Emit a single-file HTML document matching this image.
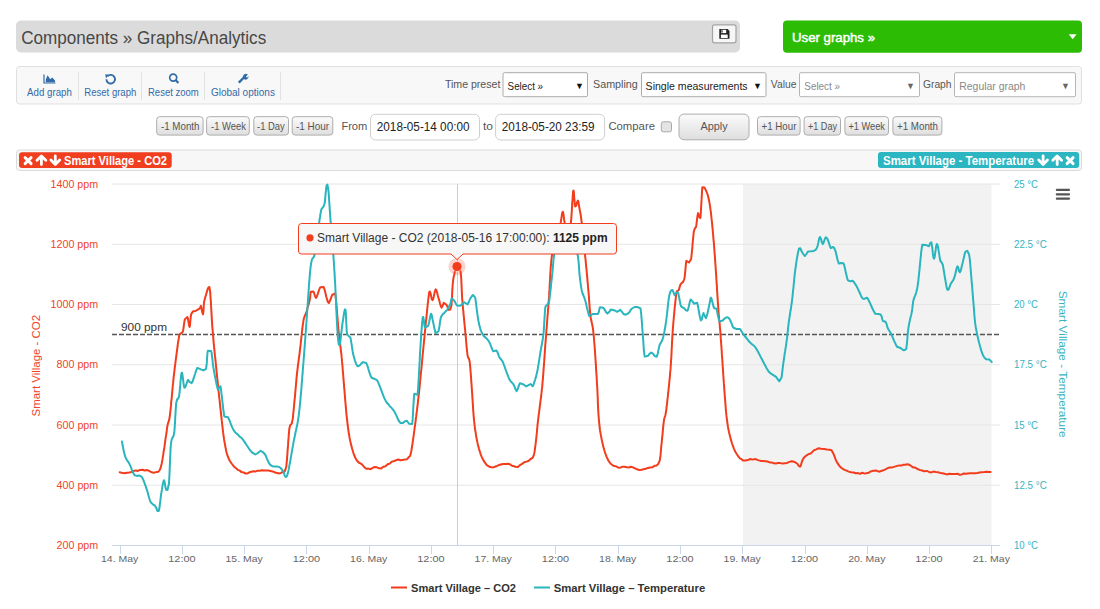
<!DOCTYPE html>
<html><head><meta charset="utf-8"><title>Graphs/Analytics</title>
<style>
html,body{margin:0;padding:0;background:#fff;width:1100px;height:609px;overflow:hidden}
svg{display:block;font-family:"Liberation Sans",sans-serif}
</style></head><body>
<svg width="1100" height="609" viewBox="0 0 1100 609">
<rect x="16" y="20.5" width="724" height="32" rx="5" fill="#dbdbdb"/>
<text x="21.2" y="43.6" font-size="17.5" fill="#474747" textLength="245" lengthAdjust="spacingAndGlyphs">Components » Graphs/Analytics</text>
<rect x="712.5" y="24.8" width="23.5" height="18" rx="2" fill="#f6f6f6" stroke="#a3a3a3" stroke-width="1.2"/>
<path d="M719.3 29 H727.6 L729.5 30.9 V38.7 H719.3 Z" fill="#222"/>
<rect x="721" y="29.8" width="5.2" height="3.3" fill="#fff"/>
<rect x="721.3" y="30.2" width="1.3" height="2.4" fill="#333"/>
<rect x="720.9" y="34.6" width="6.8" height="3.4" fill="#fff"/>
<rect x="783" y="20.5" width="299" height="32.3" rx="4" fill="#2cbc04"/>
<text x="792" y="42.2" font-size="13.2" fill="#fff" textLength="83" lengthAdjust="spacingAndGlyphs" stroke="#fff" stroke-width="0.45">User graphs »</text>
<path d="M1068.8 34.2 H1076.6 L1072.7 39.3 Z" fill="#fff"/>
<rect x="16.5" y="66.5" width="1065" height="37.5" rx="3" fill="#f8f8f8" stroke="#e0e0e0" stroke-width="1"/>
<line x1="78.5" y1="72" x2="78.5" y2="100" stroke="#e2e2e2" stroke-width="1"/>
<line x1="141.5" y1="72" x2="141.5" y2="100" stroke="#e2e2e2" stroke-width="1"/>
<line x1="204.5" y1="72" x2="204.5" y2="100" stroke="#e2e2e2" stroke-width="1"/>
<line x1="280.5" y1="72" x2="280.5" y2="100" stroke="#e2e2e2" stroke-width="1"/>
<text x="27.1" y="95.5" font-size="11.3" fill="#336aa8" textLength="44.7" lengthAdjust="spacingAndGlyphs">Add graph</text>
<text x="84.3" y="95.5" font-size="11.3" fill="#336aa8" textLength="52" lengthAdjust="spacingAndGlyphs">Reset graph</text>
<text x="148" y="95.5" font-size="11.3" fill="#336aa8" textLength="50.7" lengthAdjust="spacingAndGlyphs">Reset zoom</text>
<text x="210.9" y="95.5" font-size="11.3" fill="#336aa8" textLength="64" lengthAdjust="spacingAndGlyphs">Global options</text>
<path d="M44 74.5 V83 H55.5" fill="none" stroke="#336aa8" stroke-width="1.2"/>
<path d="M45.8 82.2 V79.5 L47.6 75.3 L50.2 79.2 L52.3 77.4 L55 80.4 V82.2 Z" fill="#336aa8"/>
<path d="M107.6 76.2 A4.3 4.3 0 1 1 106.4 79.3" fill="none" stroke="#336aa8" stroke-width="1.9"/>
<path d="M105.2 74.3 L109.3 74.8 L106 78.2 Z" fill="#336aa8"/>
<circle cx="173.2" cy="77.6" r="3.5" fill="none" stroke="#336aa8" stroke-width="1.7"/>
<line x1="175.6" y1="80.1" x2="178.4" y2="83" stroke="#336aa8" stroke-width="2.2"/>
<path d="M238.8 82.6 L244.4 77 " fill="none" stroke="#336aa8" stroke-width="2.4"/>
<path d="M243.2 78.2 A3 3 0 0 1 247.9 74.6 L246 76.6 L247 77.8 L248.6 76.3 A3 3 0 0 1 244.3 79.3 Z" fill="#336aa8"/>
<text x="444.9" y="87.7" font-size="11.5" fill="#555" textLength="55.5" lengthAdjust="spacingAndGlyphs">Time preset</text>
<rect x="503" y="72.7" width="84.5" height="24" rx="1.5" fill="#fff" stroke="#acacac" stroke-width="1"/>
<text x="507.6" y="89.6" font-size="11.8" fill="#222" textLength="35.5" lengthAdjust="spacingAndGlyphs">Select »</text>
<text x="575" y="88.5" font-size="9" fill="#111">▼</text>
<text x="593" y="87.7" font-size="11.5" fill="#555" textLength="44.8" lengthAdjust="spacingAndGlyphs">Sampling</text>
<rect x="641.5" y="72.7" width="124.5" height="24" rx="1.5" fill="#fff" stroke="#acacac" stroke-width="1"/>
<text x="645.6" y="89.6" font-size="11.8" fill="#222" textLength="102" lengthAdjust="spacingAndGlyphs">Single measurements</text>
<text x="753" y="88.5" font-size="9" fill="#111">▼</text>
<text x="770.8" y="87.7" font-size="11.5" fill="#555" textLength="25.6" lengthAdjust="spacingAndGlyphs">Value</text>
<rect x="799.5" y="72.7" width="120" height="24" rx="1.5" fill="#fff" stroke="#b5b5b5" stroke-width="1"/>
<text x="804.3" y="89.6" font-size="11.8" fill="#888" textLength="35.7" lengthAdjust="spacingAndGlyphs">Select »</text>
<text x="906" y="88.5" font-size="9" fill="#666">▼</text>
<text x="923" y="87.7" font-size="11.5" fill="#555" textLength="28.5" lengthAdjust="spacingAndGlyphs">Graph</text>
<rect x="954.5" y="72.7" width="121" height="24" rx="1.5" fill="#fff" stroke="#b5b5b5" stroke-width="1"/>
<text x="959.3" y="89.6" font-size="11.8" fill="#888" textLength="66" lengthAdjust="spacingAndGlyphs">Regular graph</text>
<text x="1061" y="88.5" font-size="9" fill="#666">▼</text>
<defs><linearGradient id="bg" x1="0" y1="0" x2="0" y2="1"><stop offset="0" stop-color="#fbfbfb"/><stop offset="1" stop-color="#dedede"/></linearGradient></defs>
<rect x="156.7" y="116.7" width="46.400000000000006" height="18.39999999999999" rx="3" fill="url(#bg)" stroke="#adadad" stroke-width="1"/>
<text x="160.9" y="129.8" font-size="10.8" fill="#555" textLength="38.6" lengthAdjust="spacingAndGlyphs">-1 Month</text>
<rect x="206.6" y="116.7" width="42.70000000000002" height="18.39999999999999" rx="3" fill="url(#bg)" stroke="#adadad" stroke-width="1"/>
<text x="211" y="129.8" font-size="10.8" fill="#555" textLength="35" lengthAdjust="spacingAndGlyphs">-1 Week</text>
<rect x="253.8" y="116.7" width="34.69999999999999" height="18.39999999999999" rx="3" fill="url(#bg)" stroke="#adadad" stroke-width="1"/>
<text x="257" y="129.8" font-size="10.8" fill="#555" textLength="27.7" lengthAdjust="spacingAndGlyphs">-1 Day</text>
<rect x="292.2" y="116.7" width="40.60000000000002" height="18.39999999999999" rx="3" fill="url(#bg)" stroke="#adadad" stroke-width="1"/>
<text x="296" y="129.8" font-size="10.8" fill="#555" textLength="33" lengthAdjust="spacingAndGlyphs">-1 Hour</text>
<text x="341.4" y="129.8" font-size="11.5" fill="#555" textLength="25.9" lengthAdjust="spacingAndGlyphs">From</text>
<rect x="370.5" y="114.3" width="109" height="25.7" rx="5" fill="#fff" stroke="#cfcfcf" stroke-width="1"/>
<text x="376.8" y="130.6" font-size="12" fill="#222" textLength="92.7" lengthAdjust="spacingAndGlyphs">2018-05-14 00:00</text>
<text x="483" y="129.8" font-size="11.5" fill="#555" textLength="10" lengthAdjust="spacingAndGlyphs">to</text>
<rect x="495.6" y="114.3" width="109" height="25.7" rx="5" fill="#fff" stroke="#cfcfcf" stroke-width="1"/>
<text x="501.8" y="130.6" font-size="12" fill="#222" textLength="92.7" lengthAdjust="spacingAndGlyphs">2018-05-20 23:59</text>
<text x="608.4" y="129.9" font-size="11.5" fill="#555" textLength="46.6" lengthAdjust="spacingAndGlyphs">Compare</text>
<rect x="661.3" y="121.8" width="10.2" height="10" rx="2" fill="#e4e4e4" stroke="#a9a9a9" stroke-width="1"/>
<rect x="679.0" y="114.1" width="70.0" height="25.700000000000017" rx="5" fill="url(#bg)" stroke="#adadad" stroke-width="1"/>
<text x="700.4" y="130.4" font-size="11.5" fill="#555" textLength="27.3" lengthAdjust="spacingAndGlyphs">Apply</text>
<rect x="757.5" y="116.7" width="42.60000000000002" height="18.39999999999999" rx="3" fill="url(#bg)" stroke="#adadad" stroke-width="1"/>
<text x="761.6" y="129.8" font-size="10.8" fill="#555" textLength="34.8" lengthAdjust="spacingAndGlyphs">+1 Hour</text>
<rect x="804.1" y="116.7" width="36.39999999999998" height="18.39999999999999" rx="3" fill="url(#bg)" stroke="#adadad" stroke-width="1"/>
<text x="808" y="129.8" font-size="10.8" fill="#555" textLength="29" lengthAdjust="spacingAndGlyphs">+1 Day</text>
<rect x="844.9" y="116.7" width="43.60000000000002" height="18.39999999999999" rx="3" fill="url(#bg)" stroke="#adadad" stroke-width="1"/>
<text x="848.4" y="129.8" font-size="10.8" fill="#555" textLength="36.6" lengthAdjust="spacingAndGlyphs">+1 Week</text>
<rect x="892.9" y="116.7" width="49.0" height="18.39999999999999" rx="3" fill="url(#bg)" stroke="#adadad" stroke-width="1"/>
<text x="897" y="129.8" font-size="10.8" fill="#555" textLength="41" lengthAdjust="spacingAndGlyphs">+1 Month</text>
<rect x="16.5" y="150" width="1065" height="20.5" rx="3" fill="#f7f7f7" stroke="#dadada" stroke-width="1"/>
<rect x="19" y="152.2" width="152.7" height="15.8" rx="3" fill="#f03e1f"/>
<text x="64" y="164.9" font-size="12" fill="#fff" font-weight="bold" textLength="103" lengthAdjust="spacingAndGlyphs">Smart Village - CO2</text>
<rect x="878" y="152.1" width="201.2" height="16" rx="3" fill="#2cb6c1"/>
<text x="883" y="164.9" font-size="12" fill="#fff" font-weight="bold" textLength="151" lengthAdjust="spacingAndGlyphs">Smart Village - Temperature</text>
<path d="M25.1 157.6 L31.1 163.6 M31.1 157.6 L25.1 163.6" fill="none" stroke="#fff" stroke-width="2.9" stroke-linecap="round"/>
<path d="M41.4 156.6 V164.6 M37.0 160.2 L41.4 155.9 L45.8 160.2" fill="none" stroke="#fff" stroke-width="2.8" stroke-linecap="round" stroke-linejoin="round"/>
<path d="M55.3 155.9 V163.9 M50.9 160.1 L55.3 164.4 L59.699999999999996 160.1" fill="none" stroke="#fff" stroke-width="2.8" stroke-linecap="round" stroke-linejoin="round"/>
<path d="M1043.1 155.9 V163.9 M1038.6999999999998 160.1 L1043.1 164.4 L1047.5 160.1" fill="none" stroke="#fff" stroke-width="2.8" stroke-linecap="round" stroke-linejoin="round"/>
<path d="M1057.2 156.6 V164.6 M1052.8 160.2 L1057.2 155.9 L1061.6000000000001 160.2" fill="none" stroke="#fff" stroke-width="2.8" stroke-linecap="round" stroke-linejoin="round"/>
<path d="M1067.1 157.6 L1073.1 163.6 M1073.1 157.6 L1067.1 163.6" fill="none" stroke="#fff" stroke-width="2.9" stroke-linecap="round"/>
<rect x="743" y="184" width="248.5" height="361.5" fill="#f2f2f2"/>
<line x1="112" y1="184" x2="1000" y2="184" stroke="#e6e6e6" stroke-width="1"/>
<line x1="112" y1="244.25" x2="1000" y2="244.25" stroke="#e6e6e6" stroke-width="1"/>
<line x1="112" y1="304.5" x2="1000" y2="304.5" stroke="#e6e6e6" stroke-width="1"/>
<line x1="112" y1="364.75" x2="1000" y2="364.75" stroke="#e6e6e6" stroke-width="1"/>
<line x1="112" y1="425" x2="1000" y2="425" stroke="#e6e6e6" stroke-width="1"/>
<line x1="112" y1="485.25" x2="1000" y2="485.25" stroke="#e6e6e6" stroke-width="1"/>
<line x1="112" y1="545.5" x2="1000" y2="545.5" stroke="#ccd6eb" stroke-width="1"/>
<line x1="120.5" y1="545" x2="120.5" y2="554" stroke="#ccd6eb" stroke-width="1"/>
<text x="119.6" y="561.9" font-size="9.8" fill="#666" text-anchor="middle" textLength="37.2" lengthAdjust="spacingAndGlyphs">14. May</text>
<line x1="182.5" y1="545" x2="182.5" y2="554" stroke="#ccd6eb" stroke-width="1"/>
<text x="181.9" y="561.9" font-size="9.8" fill="#666" text-anchor="middle" textLength="27.3" lengthAdjust="spacingAndGlyphs">12:00</text>
<line x1="244.5" y1="545" x2="244.5" y2="554" stroke="#ccd6eb" stroke-width="1"/>
<text x="244.1" y="561.9" font-size="9.8" fill="#666" text-anchor="middle" textLength="37.2" lengthAdjust="spacingAndGlyphs">15. May</text>
<line x1="306.5" y1="545" x2="306.5" y2="554" stroke="#ccd6eb" stroke-width="1"/>
<text x="306.4" y="561.9" font-size="9.8" fill="#666" text-anchor="middle" textLength="27.3" lengthAdjust="spacingAndGlyphs">12:00</text>
<line x1="369.5" y1="545" x2="369.5" y2="554" stroke="#ccd6eb" stroke-width="1"/>
<text x="368.7" y="561.9" font-size="9.8" fill="#666" text-anchor="middle" textLength="37.2" lengthAdjust="spacingAndGlyphs">16. May</text>
<line x1="431.5" y1="545" x2="431.5" y2="554" stroke="#ccd6eb" stroke-width="1"/>
<text x="430.9" y="561.9" font-size="9.8" fill="#666" text-anchor="middle" textLength="27.3" lengthAdjust="spacingAndGlyphs">12:00</text>
<line x1="493.5" y1="545" x2="493.5" y2="554" stroke="#ccd6eb" stroke-width="1"/>
<text x="493.2" y="561.9" font-size="9.8" fill="#666" text-anchor="middle" textLength="37.2" lengthAdjust="spacingAndGlyphs">17. May</text>
<line x1="555.5" y1="545" x2="555.5" y2="554" stroke="#ccd6eb" stroke-width="1"/>
<text x="555.5" y="561.9" font-size="9.8" fill="#666" text-anchor="middle" textLength="27.3" lengthAdjust="spacingAndGlyphs">12:00</text>
<line x1="618.5" y1="545" x2="618.5" y2="554" stroke="#ccd6eb" stroke-width="1"/>
<text x="617.7" y="561.9" font-size="9.8" fill="#666" text-anchor="middle" textLength="37.2" lengthAdjust="spacingAndGlyphs">18. May</text>
<line x1="680.5" y1="545" x2="680.5" y2="554" stroke="#ccd6eb" stroke-width="1"/>
<text x="680.0" y="561.9" font-size="9.8" fill="#666" text-anchor="middle" textLength="27.3" lengthAdjust="spacingAndGlyphs">12:00</text>
<line x1="742.5" y1="545" x2="742.5" y2="554" stroke="#ccd6eb" stroke-width="1"/>
<text x="742.2" y="561.9" font-size="9.8" fill="#666" text-anchor="middle" textLength="37.2" lengthAdjust="spacingAndGlyphs">19. May</text>
<line x1="805.5" y1="545" x2="805.5" y2="554" stroke="#ccd6eb" stroke-width="1"/>
<text x="804.5" y="561.9" font-size="9.8" fill="#666" text-anchor="middle" textLength="27.3" lengthAdjust="spacingAndGlyphs">12:00</text>
<line x1="867.5" y1="545" x2="867.5" y2="554" stroke="#ccd6eb" stroke-width="1"/>
<text x="866.8" y="561.9" font-size="9.8" fill="#666" text-anchor="middle" textLength="37.2" lengthAdjust="spacingAndGlyphs">20. May</text>
<line x1="929.5" y1="545" x2="929.5" y2="554" stroke="#ccd6eb" stroke-width="1"/>
<text x="929.0" y="561.9" font-size="9.8" fill="#666" text-anchor="middle" textLength="27.3" lengthAdjust="spacingAndGlyphs">12:00</text>
<line x1="991.5" y1="545" x2="991.5" y2="554" stroke="#ccd6eb" stroke-width="1"/>
<text x="991.3" y="561.9" font-size="9.8" fill="#666" text-anchor="middle" textLength="37.2" lengthAdjust="spacingAndGlyphs">21. May</text>
<text x="98.2" y="187.6" font-size="10" fill="#f0442a" text-anchor="end" textLength="47.6" lengthAdjust="spacingAndGlyphs">1400 ppm</text>
<text x="98.2" y="247.8" font-size="10" fill="#f0442a" text-anchor="end" textLength="47.6" lengthAdjust="spacingAndGlyphs">1200 ppm</text>
<text x="98.2" y="308.1" font-size="10" fill="#f0442a" text-anchor="end" textLength="47.6" lengthAdjust="spacingAndGlyphs">1000 ppm</text>
<text x="98.2" y="368.4" font-size="10" fill="#f0442a" text-anchor="end" textLength="41.6" lengthAdjust="spacingAndGlyphs">800 ppm</text>
<text x="98.2" y="428.6" font-size="10" fill="#f0442a" text-anchor="end" textLength="41.6" lengthAdjust="spacingAndGlyphs">600 ppm</text>
<text x="98.2" y="488.9" font-size="10" fill="#f0442a" text-anchor="end" textLength="41.6" lengthAdjust="spacingAndGlyphs">400 ppm</text>
<text x="98.2" y="548.6" font-size="10" fill="#f0442a" text-anchor="end" textLength="41.6" lengthAdjust="spacingAndGlyphs">200 ppm</text>
<text x="1014" y="187.6" font-size="10" fill="#36b4bf" textLength="24" lengthAdjust="spacingAndGlyphs">25 °C</text>
<text x="1014" y="247.8" font-size="10" fill="#36b4bf" textLength="32.7" lengthAdjust="spacingAndGlyphs">22.5 °C</text>
<text x="1014" y="308.1" font-size="10" fill="#36b4bf" textLength="24" lengthAdjust="spacingAndGlyphs">20 °C</text>
<text x="1014" y="368.4" font-size="10" fill="#36b4bf" textLength="32.7" lengthAdjust="spacingAndGlyphs">17.5 °C</text>
<text x="1014" y="428.6" font-size="10" fill="#36b4bf" textLength="24" lengthAdjust="spacingAndGlyphs">15 °C</text>
<text x="1014" y="488.9" font-size="10" fill="#36b4bf" textLength="32.7" lengthAdjust="spacingAndGlyphs">12.5 °C</text>
<text x="1014" y="548.6" font-size="10" fill="#36b4bf" textLength="24" lengthAdjust="spacingAndGlyphs">10 °C</text>
<text x="0" y="0" font-size="11" fill="#f0442a" text-anchor="middle" textLength="101.5" lengthAdjust="spacingAndGlyphs" transform="translate(39.8,365.7) rotate(-90)">Smart Village - CO2</text>
<text x="0" y="0" font-size="11" fill="#36b4bf" text-anchor="middle" textLength="147" lengthAdjust="spacingAndGlyphs" transform="translate(1058.8,364.2) rotate(90)">Smart Village - Temperature</text>
<line x1="112" y1="334.5" x2="1000" y2="334.5" stroke="#555" stroke-width="1.6" stroke-dasharray="5,2"/>
<text x="121" y="331" font-size="11.8" fill="#333" textLength="46" lengthAdjust="spacingAndGlyphs">900 ppm</text>
<line x1="457.5" y1="184" x2="457.5" y2="545" stroke="#cccccc" stroke-width="1"/>
<path d="M119.7 472.3 L123.0 473.1 L124.7 473.3 L126.8 472.7 L129.4 472.4 L131.3 472.0 L133.4 471.0 L135.7 470.4 L137.9 470.9 L140.0 469.9 L142.4 469.7 L144.8 470.5 L146.9 470.0 L148.6 470.6 L151.8 472.3 L153.8 472.7 L156.2 472.1 L158.2 471.8 L159.5 470.3 L160.5 468.2 L161.4 464.8 L161.8 463.2 L162.1 461.4 L162.5 459.4 L162.8 457.2 L163.2 454.9 L163.5 452.6 L163.9 450.2 L164.3 447.9 L164.6 445.6 L164.9 443.5 L165.2 441.4 L165.5 439.2 L165.8 436.9 L166.2 434.7 L166.5 432.5 L166.8 430.4 L167.0 428.4 L167.3 426.6 L167.6 425.0 L168.2 422.6 L168.7 421.5 L169.2 419.8 L169.9 415.3 L170.1 414.0 L170.2 412.5 L170.4 410.9 L170.6 409.2 L170.8 407.3 L171.0 405.4 L171.1 403.4 L171.3 401.2 L171.6 399.1 L171.8 396.9 L172.0 394.6 L172.2 392.3 L172.4 390.0 L172.6 387.7 L172.8 385.4 L173.1 383.2 L173.3 380.9 L173.5 378.8 L173.7 376.6 L174.0 374.6 L174.2 372.6 L174.5 370.4 L174.7 368.2 L175.0 365.9 L175.3 363.6 L175.6 361.3 L175.9 358.9 L176.2 356.6 L176.5 354.3 L176.8 352.0 L177.1 349.8 L177.4 347.6 L177.7 345.5 L177.9 343.5 L178.2 341.6 L178.5 339.8 L178.8 338.2 L179.0 336.7 L179.3 335.4 L179.5 334.6 L182.7 332.0 L183.1 330.4 L183.5 328.1 L183.8 325.6 L184.2 323.1 L184.5 320.9 L184.9 319.2 L187.4 317.0 L187.9 318.3 L188.3 320.9 L188.8 323.7 L189.2 326.0 L189.6 326.9 L189.9 325.8 L190.1 323.8 L190.3 321.1 L190.6 318.3 L190.9 315.7 L191.3 313.9 L193.2 311.2 L195.5 311.0 L197.8 309.6 L199.8 308.3 L200.9 305.9 L201.6 308.9 L202.3 312.5 L203.0 314.3 L203.3 312.7 L203.5 310.4 L203.7 307.4 L203.8 304.5 L204.1 302.1 L204.7 299.3 L205.3 297.1 L206.0 294.8 L206.8 291.9 L207.7 289.0 L208.5 287.4 L209.4 287.0 L210.2 292.3 L210.3 293.6 L210.4 295.0 L210.5 296.6 L210.6 298.3 L210.8 300.2 L210.9 302.2 L211.0 304.3 L211.1 306.4 L211.2 308.7 L211.4 311.0 L211.5 313.3 L211.6 315.7 L211.8 318.1 L211.9 320.5 L212.1 322.9 L212.2 325.3 L212.4 327.7 L212.6 330.0 L212.8 331.9 L212.9 333.8 L213.1 335.8 L213.3 337.8 L213.4 339.8 L213.6 341.8 L213.8 343.8 L214.0 345.9 L214.2 348.0 L214.4 350.1 L214.6 352.2 L214.8 354.3 L215.0 356.4 L215.3 358.5 L215.5 360.5 L215.7 362.6 L215.9 364.7 L216.1 366.7 L216.3 368.8 L216.5 370.8 L216.7 372.7 L216.9 374.7 L217.1 376.8 L217.3 379.0 L217.6 381.2 L217.8 383.3 L218.0 385.5 L218.2 387.6 L218.4 389.8 L218.7 391.9 L218.9 394.1 L219.1 396.2 L219.3 398.2 L219.6 400.3 L219.8 402.3 L220.0 404.3 L220.2 406.3 L220.4 408.2 L220.6 410.0 L220.8 411.8 L221.0 413.6 L221.2 415.3 L221.5 417.8 L221.7 420.2 L222.0 422.5 L222.2 424.7 L222.5 426.8 L222.7 428.8 L222.9 430.8 L223.1 432.7 L223.4 434.5 L223.6 436.3 L223.9 438.0 L224.1 439.7 L224.4 441.4 L224.9 444.0 L225.3 446.5 L225.8 448.8 L226.2 450.9 L226.7 453.0 L227.3 454.9 L227.9 456.7 L228.6 458.4 L229.6 460.5 L230.8 462.3 L232.0 464.0 L233.3 465.7 L234.7 467.2 L236.1 468.2 L237.9 469.9 L239.7 470.6 L241.6 472.1 L243.6 472.5 L245.7 473.5 L247.5 473.4 L249.4 472.3 L251.4 471.8 L253.4 471.3 L255.4 471.6 L257.5 470.7 L259.6 470.8 L261.9 470.3 L264.1 470.5 L266.3 470.4 L268.4 470.5 L270.3 470.9 L272.8 471.4 L275.1 472.5 L277.1 472.9 L278.8 473.5 L281.2 472.9 L283.0 471.7 L284.7 471.4 L286.2 467.0 L286.4 465.7 L286.5 464.2 L286.7 462.5 L286.9 460.6 L287.0 458.6 L287.2 456.4 L287.4 454.1 L287.5 451.7 L287.7 449.3 L287.9 446.8 L288.1 444.4 L288.2 442.0 L288.4 439.6 L288.6 437.4 L288.7 435.3 L288.9 433.3 L289.1 431.5 L289.2 429.9 L289.4 428.5 L290.2 425.0 L290.9 424.6 L291.7 423.7 L292.6 419.6 L292.8 418.3 L293.0 416.8 L293.1 415.2 L293.3 413.4 L293.5 411.5 L293.7 409.4 L293.9 407.3 L294.1 405.1 L294.3 402.8 L294.5 400.5 L294.8 398.2 L295.0 395.8 L295.2 393.5 L295.4 391.1 L295.6 388.8 L295.8 386.5 L296.0 384.3 L296.2 382.2 L296.4 380.1 L296.5 378.2 L296.7 376.4 L296.9 374.7 L297.2 371.9 L297.5 369.3 L297.8 367.0 L298.0 364.8 L298.3 362.8 L298.6 360.8 L298.8 358.9 L299.1 357.1 L299.3 355.2 L299.6 353.3 L299.8 351.2 L300.1 349.1 L300.3 347.0 L300.6 344.8 L300.8 342.5 L301.1 340.1 L301.3 337.8 L301.6 335.4 L301.8 333.1 L302.1 330.8 L302.3 328.7 L302.6 326.6 L302.8 324.7 L303.1 322.9 L303.3 321.4 L303.9 318.3 L304.6 316.3 L305.2 314.9 L305.9 313.5 L306.5 311.7 L307.1 309.8 L307.6 307.8 L308.2 305.7 L308.8 303.7 L309.3 301.8 L309.7 300.0 L310.2 296.8 L310.4 294.1 L310.8 291.7 L313.3 291.4 L314.2 293.2 L315.0 296.2 L316.1 297.9 L316.9 296.2 L317.8 293.9 L318.7 291.1 L319.6 288.5 L320.4 287.2 L323.6 286.9 L324.1 288.2 L324.7 290.1 L325.3 292.4 L325.8 294.7 L326.3 296.8 L326.8 298.5 L327.8 301.9 L328.9 303.0 L329.6 301.6 L330.5 299.5 L331.3 297.1 L332.1 295.0 L334.7 293.6 L335.2 294.0 L335.5 295.7 L336.0 300.0 L336.1 301.3 L336.3 302.8 L336.4 304.5 L336.6 306.4 L336.7 308.3 L336.9 310.4 L337.0 312.5 L337.2 314.7 L337.4 317.0 L337.6 319.2 L337.8 321.5 L337.9 323.7 L338.1 325.8 L338.3 327.9 L338.5 329.9 L338.7 332.1 L339.0 334.2 L339.2 336.2 L339.4 338.3 L339.7 340.3 L339.9 342.3 L340.2 344.3 L340.4 346.3 L340.7 348.4 L340.9 350.6 L341.2 352.9 L341.5 355.2 L341.7 357.7 L341.9 359.5 L342.0 361.4 L342.2 363.3 L342.4 365.3 L342.6 367.4 L342.7 369.5 L342.9 371.7 L343.1 373.9 L343.3 376.1 L343.4 378.2 L343.6 380.4 L343.8 382.6 L344.0 384.7 L344.1 386.8 L344.3 388.8 L344.5 390.7 L344.6 392.6 L344.8 394.4 L344.9 396.1 L345.1 398.6 L345.3 401.0 L345.5 403.2 L345.7 405.2 L345.8 407.2 L346.0 409.1 L346.2 411.0 L346.3 412.8 L346.5 414.5 L346.7 416.3 L346.9 418.1 L347.1 420.0 L347.4 422.3 L347.6 424.5 L347.9 426.7 L348.2 429.0 L348.5 431.1 L348.8 433.3 L349.2 435.4 L349.5 437.4 L349.9 439.4 L350.3 441.4 L350.9 443.8 L351.5 446.2 L352.1 448.6 L352.8 450.8 L353.4 453.0 L354.1 455.0 L354.9 456.8 L355.6 458.4 L357.1 460.8 L358.7 462.5 L360.4 463.4 L362.0 464.3 L364.1 467.0 L366.3 468.7 L368.4 468.6 L370.5 469.2 L372.7 467.9 L374.8 467.0 L376.9 467.3 L379.1 468.3 L381.2 468.4 L383.3 466.8 L385.5 466.2 L387.6 464.3 L389.8 463.6 L392.0 461.6 L394.0 461.0 L396.1 460.3 L398.3 459.5 L400.4 460.2 L402.6 459.9 L404.7 459.6 L407.1 459.2 L409.0 456.9 L410.1 455.9 L411.1 452.0 L411.4 450.6 L411.7 449.0 L411.9 447.2 L412.2 445.3 L412.6 443.2 L412.9 440.9 L413.2 438.6 L413.6 436.1 L413.9 433.4 L414.3 430.7 L414.5 429.0 L414.7 427.4 L415.0 425.6 L415.2 423.9 L415.5 422.1 L415.7 420.2 L415.9 418.3 L416.2 416.4 L416.4 414.4 L416.7 412.3 L417.0 410.2 L417.2 408.1 L417.5 405.8 L417.8 403.5 L418.0 401.1 L418.3 398.6 L418.6 396.1 L418.8 394.4 L419.0 392.6 L419.2 390.7 L419.4 388.8 L419.6 386.9 L419.8 384.8 L420.0 382.8 L420.2 380.7 L420.4 378.6 L420.6 376.4 L420.8 374.3 L421.0 372.1 L421.3 369.9 L421.5 367.7 L421.7 365.5 L421.9 363.3 L422.1 361.1 L422.3 359.0 L422.5 356.8 L422.7 354.7 L422.9 352.6 L423.1 350.5 L423.3 348.5 L423.5 346.5 L423.7 344.6 L423.9 342.7 L424.1 340.4 L424.4 338.1 L424.6 335.7 L424.8 333.4 L425.0 331.1 L425.3 328.7 L425.5 326.4 L425.7 324.1 L425.9 321.9 L426.2 319.6 L426.4 317.5 L426.6 315.3 L426.8 313.3 L427.0 311.3 L427.2 309.4 L427.4 307.6 L427.6 305.8 L427.7 304.2 L427.9 302.7 L428.1 301.3 L428.2 300.0 L428.8 295.1 L429.2 292.5 L429.5 291.6 L429.9 291.5 L430.5 293.0 L431.1 296.1 L431.8 299.2 L432.5 300.1 L433.1 299.2 L433.8 296.5 L434.4 293.4 L435.1 290.8 L435.7 289.4 L436.4 290.2 L437.1 292.5 L437.8 295.4 L438.5 298.0 L439.3 300.6 L440.0 303.5 L440.8 306.1 L441.5 307.6 L442.6 305.9 L443.7 302.9 L446.6 304.8 L447.8 307.7 L449.0 309.9 L450.2 309.6 L451.3 306.0 L451.5 304.7 L451.6 303.1 L451.7 301.3 L451.9 299.2 L452.0 297.1 L452.1 294.8 L452.2 292.5 L452.3 290.1 L452.5 287.8 L452.6 285.6 L452.8 283.5 L453.0 281.7 L453.2 280.0 L453.6 277.2 L454.2 274.7 L454.7 272.3 L455.3 270.3 L455.9 268.6 L456.5 267.3 L457.0 266.3 L458.3 266.6 L459.5 267.8 L460.6 272.0 L460.8 273.3 L460.9 274.8 L461.1 276.4 L461.2 278.2 L461.3 280.1 L461.4 282.1 L461.5 284.2 L461.6 286.4 L461.7 288.6 L461.8 290.9 L461.9 293.2 L462.0 295.5 L462.1 297.8 L462.3 300.0 L462.5 301.9 L462.6 303.8 L462.8 305.8 L463.0 307.9 L463.2 310.0 L463.4 312.1 L463.6 314.3 L463.8 316.4 L464.0 318.6 L464.2 320.7 L464.4 322.8 L464.6 324.9 L464.8 326.9 L465.0 328.9 L465.2 330.7 L465.3 332.5 L465.5 334.2 L465.8 336.9 L466.0 339.5 L466.2 342.0 L466.4 344.4 L466.6 346.6 L466.8 348.7 L467.0 350.6 L467.2 352.4 L467.4 354.0 L467.6 355.5 L468.3 357.9 L469.0 358.7 L469.7 361.9 L469.9 363.3 L470.0 365.0 L470.2 366.8 L470.4 368.8 L470.5 370.9 L470.7 373.2 L470.9 375.5 L471.1 377.9 L471.2 380.3 L471.4 382.7 L471.6 385.1 L471.7 387.4 L471.9 389.7 L472.0 391.7 L472.2 393.7 L472.3 395.7 L472.4 397.8 L472.6 399.9 L472.7 402.1 L472.8 404.2 L473.0 406.3 L473.1 408.4 L473.2 410.5 L473.4 412.5 L473.5 414.5 L473.7 416.4 L473.8 418.2 L474.0 420.0 L474.3 422.5 L474.6 425.0 L474.8 427.3 L475.1 429.5 L475.5 431.7 L475.8 433.7 L476.1 435.7 L476.5 437.7 L476.8 439.6 L477.2 441.4 L477.7 443.9 L478.3 446.3 L478.9 448.6 L479.5 450.7 L480.2 452.7 L480.8 454.6 L481.5 456.3 L482.5 458.5 L483.5 460.4 L484.6 462.1 L485.7 463.6 L486.8 465.2 L489.3 466.7 L492.2 467.4 L494.1 467.0 L496.3 466.3 L498.6 465.2 L500.7 464.5 L503.3 464.0 L505.7 464.1 L508.2 463.8 L510.1 464.4 L512.0 465.8 L513.9 466.3 L515.7 466.8 L517.8 467.0 L519.9 465.2 L522.1 463.9 L524.2 462.3 L526.6 461.6 L528.8 460.7 L530.6 459.0 L532.6 457.9 L533.8 455.2 L534.2 453.5 L534.6 451.6 L534.9 449.4 L535.2 446.9 L535.6 444.2 L535.9 441.4 L536.1 439.6 L536.3 437.8 L536.5 436.0 L536.7 434.0 L536.9 432.0 L537.1 429.9 L537.3 427.6 L537.5 425.2 L537.8 422.7 L538.1 420.0 L538.3 418.3 L538.5 416.6 L538.7 414.8 L539.0 412.9 L539.2 411.0 L539.5 409.1 L539.7 407.1 L540.0 405.1 L540.3 403.0 L540.5 400.9 L540.8 398.7 L541.1 396.6 L541.3 394.4 L541.6 392.2 L541.8 389.9 L542.1 387.7 L542.3 385.4 L542.5 383.5 L542.6 381.6 L542.8 379.7 L543.0 377.8 L543.1 375.8 L543.3 373.8 L543.4 371.8 L543.6 369.7 L543.7 367.7 L543.9 365.6 L544.0 363.5 L544.2 361.4 L544.3 359.3 L544.5 357.2 L544.6 355.1 L544.8 353.0 L544.9 351.0 L545.0 348.9 L545.2 346.8 L545.3 344.7 L545.5 342.7 L545.7 340.7 L545.8 338.6 L546.0 336.6 L546.1 334.6 L546.3 332.6 L546.4 330.6 L546.6 328.6 L546.8 326.6 L546.9 324.5 L547.1 322.5 L547.2 320.5 L547.4 318.5 L547.5 316.5 L547.7 314.4 L547.9 312.4 L548.0 310.3 L548.2 308.3 L548.3 306.2 L548.5 304.2 L548.6 302.1 L548.8 300.0 L548.9 298.0 L549.1 295.9 L549.2 293.8 L549.3 291.6 L549.5 289.4 L549.6 287.2 L549.7 285.0 L549.8 282.7 L550.0 280.5 L550.1 278.2 L550.2 276.0 L550.3 273.8 L550.5 271.6 L550.6 269.5 L550.7 267.4 L550.9 265.4 L551.1 263.4 L551.2 261.5 L551.4 259.7 L551.6 257.9 L551.8 256.3 L552.0 254.7 L552.5 251.8 L553.0 249.2 L553.6 246.9 L554.3 244.8 L554.9 242.8 L555.6 241.1 L556.2 239.4 L556.9 237.8 L557.4 236.3 L558.0 234.9 L558.4 233.4 L559.1 230.5 L559.7 228.1 L560.1 226.0 L560.4 224.1 L560.8 222.0 L561.2 219.5 L561.6 216.8 L562.0 214.2 L562.4 212.3 L562.8 211.7 L563.1 212.3 L563.5 214.1 L563.8 216.6 L564.1 219.4 L564.5 222.0 L564.8 224.0 L565.1 226.3 L565.4 228.7 L565.8 231.1 L566.1 233.2 L566.5 234.9 L566.8 236.1 L567.9 235.5 L569.0 232.0 L569.4 230.7 L569.8 229.5 L570.2 227.8 L570.6 225.5 L571.0 222.0 L571.1 220.4 L571.3 218.5 L571.4 216.3 L571.6 213.9 L571.8 211.4 L571.9 208.7 L572.1 206.0 L572.2 203.4 L572.4 200.8 L572.6 198.4 L572.7 196.2 L572.9 194.3 L573.0 192.7 L573.2 191.4 L573.3 190.7 L573.6 190.6 L573.8 192.0 L574.0 194.3 L574.2 197.3 L574.5 200.5 L574.7 203.4 L574.9 205.7 L575.2 206.5 L576.1 206.0 L577.0 202.5 L577.8 200.6 L578.4 201.7 L578.8 204.4 L579.4 208.0 L579.7 209.6 L580.0 211.2 L580.3 212.8 L580.7 214.8 L581.0 217.2 L581.4 220.1 L581.9 223.8 L582.1 225.3 L582.3 227.0 L582.5 228.8 L582.7 230.7 L582.9 232.7 L583.1 234.9 L583.3 237.0 L583.5 239.3 L583.8 241.6 L584.0 243.9 L584.2 246.3 L584.5 248.6 L584.7 250.9 L584.9 253.2 L585.1 255.4 L585.3 257.6 L585.6 259.7 L585.7 261.7 L585.9 263.6 L586.1 265.4 L586.3 267.9 L586.6 270.4 L586.8 272.6 L587.0 274.8 L587.2 276.9 L587.4 278.9 L587.5 280.8 L587.7 282.7 L587.9 284.6 L588.0 286.4 L588.2 288.3 L588.3 290.1 L588.5 292.0 L588.7 294.2 L588.9 296.5 L589.0 298.6 L589.2 300.8 L589.3 302.9 L589.5 305.0 L589.6 307.1 L589.8 309.1 L590.0 311.1 L590.2 313.1 L590.4 315.0 L590.7 317.2 L591.0 319.0 L591.4 320.7 L591.7 322.3 L592.1 324.1 L592.5 326.0 L592.9 328.2 L593.2 330.9 L593.6 334.2 L593.7 335.7 L593.9 337.4 L594.0 339.1 L594.2 341.0 L594.3 342.9 L594.5 344.9 L594.7 347.0 L594.8 349.1 L595.0 351.3 L595.1 353.5 L595.3 355.8 L595.4 358.1 L595.6 360.4 L595.7 362.7 L595.9 364.9 L596.0 367.2 L596.1 369.5 L596.3 371.7 L596.4 373.8 L596.6 376.0 L596.7 378.0 L596.8 380.0 L596.9 382.2 L597.0 384.3 L597.2 386.5 L597.3 388.7 L597.4 390.8 L597.5 393.0 L597.6 395.2 L597.7 397.3 L597.8 399.4 L597.8 401.5 L597.9 403.6 L598.0 405.6 L598.1 407.6 L598.2 409.5 L598.3 411.4 L598.4 413.3 L598.5 415.1 L598.7 416.8 L598.8 418.4 L598.9 420.0 L599.2 422.9 L599.5 425.6 L599.7 428.0 L600.0 430.2 L600.4 432.3 L600.7 434.2 L601.0 436.0 L601.4 437.8 L601.7 439.6 L602.1 441.4 L602.7 443.9 L603.2 446.3 L603.9 448.6 L604.5 450.8 L605.1 452.8 L605.8 454.6 L606.4 456.3 L607.5 458.8 L608.5 460.8 L609.6 462.4 L610.7 463.8 L613.4 465.8 L616.0 466.4 L618.0 467.4 L620.3 467.7 L622.2 466.8 L624.6 466.7 L626.9 467.3 L628.8 467.5 L631.0 466.7 L633.0 467.4 L635.0 468.4 L637.2 469.3 L639.4 470.1 L641.5 469.8 L643.7 469.2 L645.8 468.8 L648.0 467.9 L650.2 467.4 L652.2 467.3 L654.5 465.8 L656.5 465.4 L658.2 464.0 L659.7 460.6 L660.0 459.1 L660.2 457.4 L660.5 455.4 L660.7 453.2 L660.9 450.9 L661.1 448.5 L661.3 446.1 L661.6 443.7 L661.8 441.4 L662.0 439.3 L662.2 437.1 L662.5 434.8 L662.7 432.4 L662.9 430.1 L663.1 427.8 L663.3 425.6 L663.6 423.5 L663.8 421.6 L664.0 420.0 L664.5 417.6 L664.9 416.7 L665.4 415.2 L666.1 411.0 L666.3 409.7 L666.5 408.2 L666.6 406.6 L666.9 404.8 L667.1 403.0 L667.3 401.0 L667.5 399.0 L667.8 396.9 L668.0 394.7 L668.2 392.5 L668.5 390.2 L668.7 387.9 L669.0 385.6 L669.2 383.3 L669.4 381.1 L669.6 378.8 L669.9 376.6 L670.0 374.5 L670.2 372.5 L670.4 370.5 L670.6 368.4 L670.7 366.2 L670.9 364.1 L671.0 361.9 L671.1 359.8 L671.3 357.6 L671.4 355.5 L671.5 353.4 L671.6 351.3 L671.7 349.3 L671.8 347.2 L671.9 345.2 L672.0 343.3 L672.1 341.4 L672.2 339.5 L672.3 337.7 L672.4 335.9 L672.5 334.2 L672.7 331.7 L672.8 329.4 L673.0 327.2 L673.2 325.0 L673.3 323.0 L673.5 321.0 L673.7 319.1 L673.8 317.2 L674.0 315.4 L674.2 313.6 L674.3 311.8 L674.5 310.0 L674.7 307.6 L675.0 305.1 L675.3 302.6 L675.5 300.2 L675.8 297.9 L676.0 295.8 L676.3 293.9 L676.6 292.3 L676.8 291.3 L678.9 290.0 L679.5 287.6 L680.4 284.6 L681.6 283.1 L683.0 282.0 L684.2 279.3 L684.5 277.7 L684.8 275.8 L685.0 273.5 L685.3 271.0 L685.5 268.6 L685.7 266.2 L685.9 264.1 L686.1 262.3 L686.4 260.8 L689.0 262.5 L691.1 259.0 L691.3 257.6 L691.5 255.8 L691.7 253.8 L691.9 251.5 L692.2 249.0 L692.4 246.5 L692.6 243.9 L692.8 241.3 L693.1 238.8 L693.3 236.5 L693.5 234.4 L693.7 232.6 L693.9 231.2 L695.0 228.2 L696.0 227.0 L696.3 225.4 L696.6 223.2 L696.9 220.7 L697.2 218.2 L697.5 216.0 L697.8 214.2 L698.1 213.1 L699.2 216.8 L700.3 218.1 L700.4 217.3 L700.6 215.9 L700.7 214.0 L700.9 211.9 L701.0 209.6 L701.1 207.2 L701.3 204.6 L701.4 202.0 L701.6 199.4 L701.7 196.9 L701.8 194.5 L702.0 192.3 L702.1 190.4 L702.3 188.7 L702.4 187.2 L704.5 187.4 L705.1 188.6 L705.8 190.1 L706.6 191.9 L707.4 194.0 L708.1 196.4 L708.8 199.2 L709.1 200.8 L709.4 202.6 L709.8 204.4 L710.0 206.2 L710.3 208.2 L710.6 210.3 L710.9 212.6 L711.2 214.9 L711.4 217.4 L711.7 220.0 L712.0 222.7 L712.2 224.4 L712.3 226.1 L712.5 227.8 L712.7 229.6 L712.8 231.5 L713.0 233.4 L713.2 235.3 L713.3 237.3 L713.5 239.3 L713.7 241.3 L713.9 243.4 L714.0 245.5 L714.2 247.7 L714.4 249.9 L714.5 252.1 L714.7 254.3 L714.9 256.5 L715.0 258.8 L715.2 261.1 L715.3 263.0 L715.5 264.9 L715.6 266.9 L715.7 268.9 L715.9 271.0 L716.0 273.2 L716.2 275.3 L716.3 277.5 L716.4 279.8 L716.6 282.0 L716.7 284.2 L716.9 286.4 L717.0 288.7 L717.1 290.8 L717.3 293.0 L717.4 295.1 L717.5 297.2 L717.7 299.3 L717.8 301.2 L717.9 303.2 L718.1 305.0 L718.2 306.8 L718.3 308.4 L718.4 310.0 L718.6 312.8 L718.8 315.0 L719.0 316.9 L719.1 318.5 L719.2 319.9 L719.4 321.3 L719.5 322.7 L719.7 324.3 L719.8 326.1 L720.0 328.3 L720.3 330.9 L720.5 334.2 L720.6 335.6 L720.7 337.2 L720.8 338.9 L721.0 340.6 L721.1 342.5 L721.2 344.4 L721.4 346.4 L721.5 348.4 L721.7 350.6 L721.8 352.7 L721.9 354.9 L722.1 357.2 L722.3 359.4 L722.4 361.7 L722.6 364.0 L722.7 366.3 L722.9 368.6 L723.0 370.9 L723.2 373.2 L723.3 375.4 L723.5 377.6 L723.6 379.8 L723.8 381.9 L723.9 383.9 L724.1 385.9 L724.2 387.9 L724.3 389.7 L724.5 391.5 L724.6 393.1 L724.7 394.7 L724.8 396.1 L725.1 399.4 L725.3 402.4 L725.5 404.9 L725.7 407.1 L725.8 409.1 L726.0 410.9 L726.1 412.4 L726.3 413.9 L726.4 415.4 L726.6 416.9 L726.8 418.4 L727.0 420.0 L727.3 422.5 L727.7 424.8 L728.0 427.0 L728.4 429.1 L728.8 431.1 L729.2 433.1 L729.7 435.1 L730.2 437.1 L730.8 439.4 L731.5 441.7 L732.2 444.0 L733.0 446.2 L733.8 448.3 L734.6 450.2 L735.5 452.0 L736.9 454.3 L738.3 456.4 L739.9 458.4 L741.5 459.2 L743.0 460.4 L745.4 460.6 L747.7 460.1 L750.4 459.0 L752.3 459.6 L754.4 459.1 L756.7 459.6 L758.9 460.4 L761.1 461.0 L763.2 461.0 L765.4 461.2 L767.5 461.5 L769.7 462.4 L771.8 462.4 L773.9 463.3 L776.1 463.5 L778.2 462.9 L780.4 463.1 L782.5 463.6 L784.7 463.2 L787.1 462.9 L789.4 461.9 L791.5 461.3 L793.2 461.4 L795.8 462.7 L797.4 463.8 L798.8 466.0 L800.0 466.7 L800.7 465.8 L801.3 463.7 L802.0 461.4 L802.8 459.5 L804.0 457.6 L805.4 456.3 L807.0 455.1 L808.8 454.0 L810.7 453.6 L812.6 451.6 L814.5 450.0 L816.4 449.4 L818.3 448.3 L821.1 448.8 L824.0 449.1 L827.0 449.5 L829.7 449.7 L831.5 450.2 L833.1 453.1 L833.9 454.8 L834.7 456.9 L835.6 459.3 L836.6 461.5 L837.7 463.4 L839.2 465.6 L840.8 467.4 L842.6 468.7 L844.5 469.8 L846.6 470.7 L848.7 471.6 L851.1 472.2 L853.7 472.5 L855.7 473.3 L857.9 473.1 L860.2 473.7 L862.4 472.8 L864.5 473.6 L866.2 473.2 L868.5 472.8 L870.0 471.8 L871.9 471.1 L874.0 470.8 L876.4 470.6 L878.9 471.7 L881.1 471.0 L883.4 470.3 L885.4 469.4 L887.9 468.0 L889.9 467.4 L892.3 467.4 L894.8 466.6 L897.2 465.9 L899.3 465.4 L901.5 465.6 L903.5 464.7 L905.4 464.8 L907.3 464.3 L909.2 464.7 L911.1 466.0 L913.1 467.4 L915.3 467.6 L917.4 469.0 L919.6 469.9 L922.0 470.5 L924.4 471.2 L926.7 470.9 L929.0 471.9 L931.3 472.4 L933.5 471.6 L935.8 472.0 L938.1 472.2 L940.3 472.9 L942.4 473.2 L944.5 473.7 L946.9 474.4 L949.6 473.8 L951.4 473.9 L953.3 473.9 L955.3 473.9 L957.5 473.8 L959.7 474.7 L961.8 474.4 L963.9 473.5 L965.9 473.8 L967.8 473.5 L970.4 473.3 L972.9 473.2 L975.2 473.3 L977.4 473.0 L979.5 472.5 L981.5 472.2 L984.3 472.1 L986.9 471.8 L989.1 472.1 L990.6 472.0" fill="none" stroke="#f23c1c" stroke-width="2" stroke-linejoin="round" stroke-linecap="round"/>
<path d="M121.9 441.4 L122.2 442.8 L122.5 444.8 L123.0 447.1 L123.5 449.7 L124.0 452.1 L124.6 454.4 L125.1 456.3 L126.1 458.6 L127.1 460.3 L128.2 461.8 L129.4 463.8 L130.2 465.6 L131.1 467.7 L131.9 469.9 L132.8 472.0 L133.7 473.8 L134.7 475.2 L136.8 475.9 L139.0 475.4 L141.1 476.3 L142.1 477.4 L143.0 479.2 L143.9 481.3 L144.7 483.7 L145.6 486.0 L146.4 488.3 L147.1 490.3 L147.7 492.5 L148.3 494.7 L148.9 496.9 L149.5 499.0 L150.1 500.8 L150.7 502.2 L152.9 504.4 L155.0 505.7 L156.3 508.1 L157.5 511.1 L158.6 511.1 L158.9 510.4 L159.3 508.8 L159.6 506.7 L159.9 504.4 L160.2 501.9 L160.5 499.3 L160.8 496.8 L161.1 494.5 L161.4 492.6 L161.9 489.9 L162.3 487.2 L162.7 484.6 L163.2 482.5 L163.6 480.9 L164.0 480.2 L164.5 481.3 L165.0 484.4 L165.5 487.6 L166.1 489.7 L167.5 489.9 L168.9 484.1 L169.0 482.8 L169.1 481.3 L169.2 479.6 L169.3 477.8 L169.4 475.7 L169.5 473.6 L169.6 471.3 L169.7 469.0 L169.8 466.6 L169.9 464.1 L170.0 461.7 L170.1 459.3 L170.2 456.9 L170.3 454.6 L170.4 452.4 L170.5 450.3 L170.6 448.3 L170.7 446.5 L170.9 444.9 L171.0 443.5 L171.6 439.8 L172.3 438.0 L172.9 437.1 L173.6 435.7 L174.2 432.8 L174.4 431.3 L174.5 429.6 L174.7 427.6 L174.8 425.5 L175.0 423.3 L175.1 420.9 L175.2 418.6 L175.3 416.2 L175.5 413.8 L175.6 411.6 L175.7 409.4 L175.9 407.3 L176.0 405.5 L176.1 403.9 L176.3 402.5 L177.2 399.2 L178.2 398.6 L179.1 396.1 L179.3 394.5 L179.6 392.3 L179.8 389.9 L180.1 387.2 L180.3 384.4 L180.5 381.6 L180.8 379.0 L181.0 376.7 L181.2 374.8 L181.5 373.4 L181.7 372.7 L182.1 372.9 L182.4 374.7 L182.8 377.5 L183.2 380.7 L183.6 383.8 L184.0 386.3 L184.4 387.8 L185.3 387.1 L186.2 384.6 L187.2 381.8 L188.1 379.9 L189.8 382.2 L191.7 383.1 L192.3 382.1 L193.0 380.4 L193.7 378.1 L194.5 375.7 L195.3 373.3 L196.0 371.0 L196.7 369.1 L197.3 367.9 L200.9 369.4 L203.4 370.4 L205.8 369.2 L206.2 368.0 L206.4 366.2 L206.7 363.9 L206.9 361.4 L207.0 358.8 L207.2 356.3 L207.4 354.0 L207.6 352.2 L207.9 350.7 L211.1 351.0 L211.4 352.0 L211.7 353.7 L211.9 355.6 L212.2 357.7 L212.5 360.0 L212.7 362.4 L213.0 364.8 L213.3 367.2 L213.7 369.4 L214.1 371.5 L214.5 373.7 L214.9 376.1 L215.4 378.5 L215.9 380.9 L216.3 383.2 L216.8 385.3 L217.2 387.1 L217.6 388.6 L218.0 389.9 L219.3 387.5 L220.5 386.3 L220.7 387.6 L221.0 389.1 L221.2 390.8 L221.4 392.9 L221.7 395.1 L222.0 397.5 L222.2 399.9 L222.5 402.4 L222.8 404.9 L223.1 407.3 L223.3 409.6 L223.6 411.7 L223.9 413.6 L224.1 415.2 L224.4 416.6 L228.0 417.2 L228.7 418.7 L229.5 420.4 L230.3 422.5 L231.1 424.7 L232.0 426.9 L233.0 428.9 L234.0 430.7 L235.3 432.4 L236.7 433.6 L238.2 434.8 L239.6 436.6 L241.1 437.5 L242.5 439.0 L243.8 440.9 L245.2 442.8 L246.4 444.8 L247.7 446.7 L248.9 448.5 L250.0 450.2 L251.9 452.3 L253.6 453.4 L255.3 454.5 L257.1 453.5 L259.0 452.0 L260.7 450.8 L262.8 452.0 L264.9 454.2 L265.9 456.0 L266.8 458.3 L267.9 460.8 L269.0 463.1 L270.3 464.9 L272.3 466.2 L274.6 466.5 L276.9 466.4 L278.8 466.9 L280.6 468.0 L282.0 469.6 L283.1 471.2 L284.1 473.5 L284.8 476.0 L285.6 477.0 L286.4 476.7 L287.2 475.4 L288.3 471.2 L288.6 469.9 L288.9 468.4 L289.2 466.7 L289.5 464.9 L289.9 463.0 L290.3 460.9 L290.6 458.8 L291.0 456.6 L291.4 454.3 L291.8 452.1 L292.2 449.9 L292.6 447.6 L293.0 445.5 L293.3 443.4 L293.7 441.4 L294.1 439.4 L294.5 437.5 L294.9 435.6 L295.3 433.8 L295.6 432.1 L296.0 430.3 L296.4 428.5 L296.8 426.7 L297.2 424.7 L297.6 422.7 L297.9 420.6 L298.3 418.3 L298.7 415.9 L299.0 413.2 L299.2 411.5 L299.4 409.8 L299.6 408.0 L299.8 406.2 L300.0 404.2 L300.2 402.2 L300.4 400.2 L300.5 398.1 L300.7 396.0 L300.9 393.9 L301.1 391.7 L301.3 389.6 L301.5 387.4 L301.6 385.2 L301.8 383.0 L302.0 380.8 L302.2 378.6 L302.3 376.4 L302.5 374.3 L302.7 372.2 L302.8 370.1 L303.0 368.0 L303.1 366.0 L303.3 364.1 L303.5 361.9 L303.6 359.8 L303.8 357.7 L304.0 355.6 L304.1 353.5 L304.3 351.5 L304.4 349.5 L304.6 347.5 L304.7 345.5 L304.9 343.5 L305.0 341.5 L305.2 339.5 L305.3 337.6 L305.5 335.6 L305.6 333.6 L305.8 331.6 L305.9 329.6 L306.1 327.6 L306.2 325.5 L306.3 323.5 L306.5 321.4 L306.6 319.4 L306.8 317.3 L306.9 315.1 L307.1 312.9 L307.2 310.7 L307.4 308.4 L307.6 306.2 L307.7 303.9 L307.9 301.6 L308.0 299.3 L308.2 297.1 L308.3 294.9 L308.5 292.7 L308.6 290.5 L308.8 288.4 L308.9 286.4 L309.0 284.5 L309.2 282.6 L309.3 280.8 L309.5 279.1 L309.6 277.6 L309.7 276.1 L310.0 272.6 L310.3 269.8 L310.5 267.6 L310.8 265.7 L311.0 264.2 L311.2 262.8 L311.5 261.5 L311.8 260.1 L312.5 258.4 L313.2 257.8 L314.0 256.4 L315.0 252.6 L315.2 251.3 L315.5 249.7 L315.8 247.9 L316.1 246.0 L316.3 243.9 L316.7 241.7 L317.0 239.4 L317.3 237.0 L317.6 234.5 L317.9 232.1 L318.2 229.7 L318.6 227.3 L318.9 225.0 L319.2 222.8 L319.4 220.7 L319.7 218.8 L320.0 217.0 L320.2 215.5 L320.4 214.2 L321.3 209.6 L321.9 208.6 L322.5 207.8 L323.6 206.4 L324.6 203.5 L324.8 202.0 L325.1 200.0 L325.3 197.7 L325.5 195.2 L325.7 192.7 L326.0 190.4 L326.2 188.3 L326.4 186.6 L326.6 185.5 L327.4 184.6 L328.3 189.5 L328.4 190.8 L328.6 192.3 L328.7 194.0 L328.9 195.8 L329.0 197.8 L329.1 199.9 L329.3 202.1 L329.4 204.3 L329.6 206.7 L329.7 209.0 L329.9 211.4 L330.1 213.8 L330.2 216.1 L330.4 218.4 L330.5 220.3 L330.7 222.2 L330.9 224.1 L331.0 226.1 L331.2 228.1 L331.4 230.1 L331.5 232.1 L331.7 234.1 L331.9 236.2 L332.1 238.3 L332.2 240.3 L332.4 242.4 L332.6 244.4 L332.7 246.5 L332.9 248.5 L333.1 250.6 L333.2 252.6 L333.3 254.6 L333.5 256.6 L333.6 258.5 L333.7 260.4 L333.9 262.3 L334.0 264.2 L334.1 266.1 L334.2 268.0 L334.3 270.0 L334.5 271.9 L334.6 273.9 L334.7 275.9 L334.8 278.0 L334.9 280.1 L335.1 282.3 L335.2 284.5 L335.3 286.8 L335.4 288.7 L335.5 290.6 L335.6 292.7 L335.7 294.8 L335.8 297.0 L335.9 299.2 L336.0 301.5 L336.1 303.8 L336.2 306.1 L336.3 308.4 L336.4 310.7 L336.5 313.0 L336.6 315.3 L336.7 317.5 L336.8 319.6 L336.9 321.7 L337.0 323.7 L337.1 325.6 L337.2 327.4 L337.3 329.1 L337.4 330.6 L337.5 332.0 L337.8 336.4 L338.2 340.0 L338.5 342.7 L338.8 344.4 L339.2 345.0 L339.6 344.8 L339.9 344.0 L340.1 342.6 L340.4 340.7 L340.7 338.5 L341.0 336.0 L341.3 333.3 L341.6 330.6 L341.9 327.9 L342.2 325.4 L342.5 323.2 L342.8 321.4 L343.3 318.3 L343.7 315.3 L344.2 312.5 L344.6 310.4 L345.0 309.4 L345.4 309.6 L345.6 310.4 L345.7 311.8 L345.9 313.7 L346.0 315.9 L346.1 318.4 L346.2 321.0 L346.3 323.6 L346.5 326.2 L346.6 328.7 L346.7 330.9 L346.9 332.8 L347.1 334.2 L348.6 335.9 L350.3 337.4 L350.7 338.8 L351.0 340.6 L351.3 342.6 L351.7 344.8 L352.0 347.1 L352.4 349.5 L352.7 351.7 L353.1 353.7 L353.5 355.5 L354.3 358.4 L355.1 361.0 L355.9 363.4 L356.8 365.1 L357.7 366.3 L359.5 365.6 L361.4 363.4 L363.1 362.1 L366.3 363.0 L366.9 364.5 L367.7 366.6 L368.4 369.1 L369.2 371.7 L370.0 374.2 L370.8 376.3 L371.6 377.8 L374.1 378.7 L377.0 380.2 L377.7 381.3 L378.4 382.8 L379.1 384.6 L379.9 386.6 L380.7 388.6 L381.5 390.8 L382.3 393.0 L383.1 395.1 L383.9 397.1 L384.7 398.9 L385.5 400.4 L386.9 402.7 L388.4 404.3 L389.9 406.5 L391.3 407.5 L392.7 409.3 L394.0 411.0 L395.2 413.1 L396.3 415.4 L397.3 417.7 L398.3 419.9 L399.4 421.6 L400.4 422.9 L402.7 423.1 L405.1 421.2 L406.9 420.8 L409.0 423.8 L412.2 423.9 L412.4 422.6 L412.5 420.9 L412.7 418.9 L412.8 416.6 L413.0 414.2 L413.1 411.6 L413.2 408.9 L413.4 406.2 L413.5 403.6 L413.7 401.2 L413.8 398.9 L414.0 396.9 L414.1 395.3 L414.3 393.7 L417.5 394.7 L417.6 393.9 L417.7 392.7 L417.9 391.2 L418.0 389.6 L418.1 387.9 L418.3 386.0 L418.4 384.0 L418.5 382.0 L418.6 379.8 L418.8 377.6 L418.9 375.2 L419.0 372.9 L419.2 370.5 L419.3 368.1 L419.4 365.7 L419.5 363.3 L419.7 360.9 L419.8 358.6 L419.9 356.3 L420.0 354.0 L420.1 351.9 L420.3 349.8 L420.4 347.8 L420.5 346.0 L420.6 344.3 L420.7 342.7 L420.9 339.5 L421.1 336.5 L421.3 333.6 L421.5 330.8 L421.7 328.3 L421.9 326.0 L422.0 323.8 L422.2 322.0 L422.4 320.3 L422.6 319.0 L422.7 317.9 L422.9 317.1 L423.3 317.1 L423.7 319.4 L424.1 322.7 L424.5 325.9 L425.0 327.6 L428.2 325.9 L428.7 324.0 L429.2 321.8 L429.7 319.3 L430.2 316.9 L430.6 315.0 L431.0 313.7 L431.7 314.9 L432.5 319.2 L432.9 320.9 L433.3 323.0 L433.8 325.4 L434.3 327.8 L434.8 330.0 L435.2 331.9 L435.7 333.3 L438.5 331.3 L438.9 329.5 L439.2 327.6 L439.6 325.4 L439.9 323.0 L440.2 320.7 L440.6 318.7 L441.0 317.1 L442.6 314.3 L444.2 313.1 L445.8 311.2 L447.4 309.6 L448.5 307.6 L449.7 305.3 L450.6 303.2 L451.1 300.2 L451.7 298.4 L453.2 299.6 L454.9 301.7 L455.9 303.7 L457.0 305.5 L460.2 305.8 L462.3 304.1 L464.4 302.3 L467.6 304.5 L468.8 302.0 L470.0 299.0 L471.5 296.7 L473.0 295.0 L475.1 297.4 L475.4 298.9 L475.7 300.9 L476.0 303.2 L476.3 305.7 L476.6 308.2 L476.9 310.6 L477.2 312.8 L477.5 315.1 L477.9 317.4 L478.2 319.6 L478.6 321.7 L479.0 323.7 L479.4 325.6 L480.1 328.1 L480.7 330.2 L481.6 332.2 L482.6 334.2 L484.0 336.4 L485.7 337.6 L487.5 339.5 L489.0 341.6 L490.0 343.5 L490.9 345.8 L491.7 348.0 L492.5 349.9 L493.2 351.3 L496.4 350.5 L497.2 351.6 L498.0 353.6 L498.8 355.9 L499.6 357.7 L501.0 359.2 L502.8 361.9 L503.4 363.3 L504.0 365.1 L504.8 367.1 L505.5 369.3 L506.3 371.5 L507.1 373.7 L507.9 375.7 L508.6 377.5 L509.2 379.0 L510.8 381.6 L512.2 382.8 L513.5 384.3 L514.6 386.9 L515.7 389.6 L516.7 391.1 L517.5 389.7 L518.3 387.4 L519.1 384.9 L519.9 383.3 L523.1 384.2 L526.3 386.4 L528.5 385.2 L530.6 384.0 L532.7 386.3 L533.2 385.4 L533.8 383.9 L534.4 381.9 L535.1 379.8 L535.8 377.4 L536.4 375.0 L537.0 372.6 L537.4 370.7 L537.8 368.7 L538.1 366.6 L538.5 364.4 L538.8 362.2 L539.2 360.0 L539.5 357.8 L539.9 355.6 L540.2 353.4 L540.6 351.3 L540.9 349.3 L541.3 347.3 L541.7 345.3 L542.1 343.3 L542.4 341.2 L542.8 339.0 L543.1 336.7 L543.4 334.2 L543.6 332.3 L543.8 330.2 L543.9 327.9 L544.1 325.5 L544.2 323.0 L544.4 320.5 L544.5 318.1 L544.7 315.7 L544.8 313.4 L545.0 311.3 L545.1 309.4 L545.3 307.8 L545.5 306.4 L547.1 304.8 L548.8 303.0 L549.1 301.7 L549.3 300.1 L549.6 298.3 L549.8 296.3 L550.1 294.1 L550.3 291.8 L550.6 289.5 L550.9 287.1 L551.1 284.7 L551.3 282.4 L551.6 280.2 L551.8 278.1 L552.0 276.1 L552.3 273.7 L552.5 271.4 L552.7 269.1 L552.9 266.8 L553.1 264.6 L553.3 262.5 L553.4 260.5 L553.6 258.5 L553.9 256.5 L554.1 254.7 L554.4 252.2 L554.7 249.7 L555.0 247.4 L555.4 245.2 L555.8 243.2 L556.3 241.5 L557.0 240.0 L558.7 238.4 L560.7 236.8 L563.0 236.1 L565.0 236.3 L567.5 235.7 L569.8 236.0 L572.0 237.8 L572.8 239.4 L573.6 241.0 L574.4 243.0 L575.1 245.1 L575.8 247.4 L576.5 249.8 L577.1 252.3 L577.6 254.7 L578.0 256.7 L578.2 258.8 L578.5 261.0 L578.7 263.2 L578.9 265.5 L579.0 267.8 L579.2 270.0 L579.3 272.2 L579.5 274.2 L579.7 276.1 L580.0 278.6 L580.3 281.0 L580.6 283.3 L580.9 285.4 L581.2 287.4 L581.5 289.2 L581.9 291.0 L582.6 293.5 L583.4 295.4 L584.2 297.4 L585.1 300.0 L585.6 301.8 L586.1 303.9 L586.6 306.3 L587.2 308.7 L587.8 311.0 L588.3 313.1 L588.8 314.8 L589.3 316.1 L592.5 314.1 L595.3 314.1 L597.9 313.9 L598.8 312.0 L599.3 309.4 L600.0 307.2 L603.2 307.7 L604.6 309.6 L606.1 312.3 L607.5 313.6 L609.1 312.1 L610.7 309.6 L612.9 310.0 L615.0 310.5 L617.1 311.8 L620.3 309.9 L621.8 311.6 L623.5 314.0 L625.6 314.7 L627.8 313.7 L629.2 312.4 L630.5 310.2 L632.0 308.5 L634.7 307.0 L637.3 307.0 L640.5 308.4 L640.7 309.8 L640.9 311.4 L641.2 313.3 L641.3 315.4 L641.5 317.6 L641.7 320.0 L641.9 322.5 L642.1 324.9 L642.2 327.4 L642.4 329.7 L642.6 332.0 L642.8 334.1 L642.9 336.3 L643.1 338.7 L643.3 341.1 L643.4 343.5 L643.6 345.8 L643.7 348.1 L643.9 350.3 L644.1 352.2 L644.3 354.0 L644.5 355.4 L644.7 356.6 L648.0 355.8 L649.5 353.8 L651.2 352.6 L652.9 353.7 L654.8 356.1 L656.5 356.7 L657.2 355.5 L657.7 353.7 L658.2 351.4 L658.7 348.9 L659.2 346.6 L659.7 344.8 L660.8 342.7 L661.8 341.1 L662.9 338.4 L663.3 336.8 L663.7 335.1 L664.1 333.2 L664.5 331.1 L664.9 328.9 L665.3 326.5 L665.7 324.0 L666.1 321.4 L666.3 319.6 L666.6 317.7 L666.8 315.6 L667.1 313.4 L667.3 311.1 L667.6 308.8 L667.8 306.5 L668.1 304.2 L668.3 302.1 L668.6 300.1 L668.8 298.3 L669.1 296.7 L669.3 295.3 L670.4 291.6 L671.5 290.2 L672.5 289.9 L673.6 292.5 L674.6 295.2 L676.1 293.0 L677.8 292.0 L678.3 293.3 L678.7 295.2 L679.2 297.5 L679.6 300.0 L680.1 302.4 L680.5 304.5 L681.0 306.3 L684.2 308.4 L685.9 310.3 L687.5 310.7 L688.1 309.1 L688.8 306.5 L689.4 303.6 L690.1 301.1 L690.7 299.5 L692.3 301.1 L693.9 303.7 L697.1 302.7 L697.6 304.3 L698.0 306.5 L698.5 309.1 L699.0 312.0 L699.5 314.8 L700.0 317.2 L700.5 319.2 L700.9 320.5 L701.9 319.2 L702.7 315.3 L703.5 313.0 L704.7 316.0 L706.0 318.1 L706.4 317.1 L706.9 315.4 L707.5 313.2 L708.0 310.8 L708.6 308.2 L709.1 305.8 L709.5 303.7 L709.9 302.1 L710.5 298.1 L711.0 297.6 L711.5 298.7 L712.1 301.1 L712.8 303.8 L713.5 306.4 L714.1 308.3 L716.3 308.6 L716.8 310.1 L717.3 312.4 L717.8 315.0 L718.4 317.7 L719.0 319.9 L719.5 321.5 L722.7 320.5 L724.9 318.3 L727.0 317.2 L728.7 317.9 L730.2 320.3 L731.0 322.0 L731.8 324.2 L732.6 326.3 L733.4 327.8 L736.6 329.0 L739.8 328.9 L741.0 330.4 L742.4 332.7 L744.0 335.2 L745.5 337.0 L747.1 338.9 L748.8 341.2 L750.4 342.8 L752.3 344.5 L754.0 345.7 L755.8 348.0 L756.8 349.6 L757.8 351.4 L758.8 353.3 L759.9 355.4 L761.1 357.7 L762.1 359.5 L763.2 361.7 L764.3 363.9 L765.5 366.1 L766.6 368.2 L767.7 370.0 L768.6 371.5 L771.0 373.7 L772.9 374.8 L776.1 376.9 L777.8 379.3 L779.3 381.3 L781.4 377.9 L781.7 376.5 L781.9 374.9 L782.1 373.1 L782.4 371.0 L782.6 368.9 L782.9 366.6 L783.2 364.2 L783.5 361.9 L783.8 360.0 L784.1 357.9 L784.4 355.8 L784.7 353.7 L785.1 351.4 L785.4 349.2 L785.8 347.0 L786.1 344.8 L786.4 342.7 L786.7 340.6 L787.0 338.4 L787.2 336.2 L787.5 334.1 L787.7 332.0 L787.9 330.0 L788.1 327.9 L788.4 325.8 L788.6 323.6 L788.9 321.4 L789.2 319.4 L789.5 317.4 L789.8 315.4 L790.1 313.4 L790.4 311.4 L790.8 309.3 L791.1 307.1 L791.4 304.9 L791.8 302.5 L792.1 300.0 L792.3 298.2 L792.5 296.3 L792.7 294.4 L792.9 292.3 L793.1 290.2 L793.4 288.1 L793.6 285.9 L793.8 283.8 L794.0 281.6 L794.2 279.5 L794.4 277.4 L794.6 275.3 L794.8 273.4 L795.1 271.5 L795.3 269.7 L795.7 267.1 L796.0 264.5 L796.4 261.9 L796.8 259.3 L797.2 256.9 L797.6 254.7 L798.0 252.6 L798.4 250.9 L798.8 249.4 L799.1 248.4 L800.4 248.3 L801.7 251.5 L803.3 254.1 L804.9 256.0 L806.4 254.0 L808.1 251.4 L810.9 251.2 L813.7 250.9 L815.6 249.9 L817.1 247.4 L817.7 245.5 L818.3 243.0 L818.8 240.3 L819.3 238.2 L819.9 237.0 L820.9 238.6 L821.8 242.0 L822.8 244.1 L823.8 242.2 L824.8 239.0 L825.8 237.3 L827.2 238.5 L828.5 241.6 L829.3 243.9 L830.0 246.4 L830.8 248.1 L833.1 247.0 L834.2 247.9 L835.4 250.8 L835.9 252.5 L836.4 254.8 L837.0 257.3 L837.5 259.7 L838.2 261.8 L838.8 263.6 L841.0 263.0 L843.4 263.3 L844.0 264.7 L844.6 266.8 L845.1 269.2 L845.7 271.9 L846.3 274.6 L846.9 277.0 L847.4 279.1 L848.0 280.3 L850.2 281.4 L852.5 280.8 L853.6 281.6 L854.7 283.2 L855.9 285.1 L857.1 287.3 L858.0 289.1 L859.0 291.2 L860.0 293.5 L861.0 295.7 L861.9 297.5 L862.8 298.7 L865.0 298.7 L866.9 297.7 L868.1 299.2 L869.6 302.3 L870.4 303.9 L871.3 306.0 L872.3 308.3 L873.4 310.5 L874.4 312.4 L875.4 313.8 L878.2 314.0 L880.6 314.4 L881.6 316.2 L882.2 319.0 L882.9 321.0 L885.6 321.8 L886.4 323.6 L887.1 326.1 L887.9 328.5 L888.9 330.2 L890.0 331.8 L891.3 334.2 L892.1 336.0 L893.1 338.3 L894.1 340.8 L895.2 343.2 L896.2 345.3 L897.0 346.8 L900.5 348.0 L902.3 349.4 L903.9 350.3 L906.2 349.2 L906.4 347.7 L906.6 346.0 L906.9 343.9 L907.1 341.6 L907.3 339.2 L907.5 336.7 L907.7 334.1 L908.0 331.7 L908.2 329.4 L908.5 327.4 L908.9 325.1 L909.3 322.9 L909.8 320.8 L910.2 318.8 L910.7 316.8 L911.2 314.9 L911.6 313.1 L911.9 311.4 L912.3 308.9 L912.5 306.6 L912.8 304.5 L913.0 302.4 L913.5 300.0 L914.0 298.4 L914.5 297.0 L915.1 295.7 L915.7 294.2 L916.3 292.2 L917.0 289.6 L917.6 286.2 L917.8 284.7 L918.0 283.0 L918.3 281.1 L918.5 279.1 L918.7 276.9 L919.0 274.6 L919.2 272.2 L919.5 269.8 L919.7 267.3 L919.9 264.8 L920.2 262.3 L920.4 259.9 L920.7 257.5 L920.9 255.3 L921.1 253.1 L921.3 251.1 L921.6 249.3 L921.8 247.7 L922.0 246.3 L922.2 244.8 L925.6 244.9 L929.0 246.2 L930.2 243.2 L931.3 242.2 L931.6 243.4 L931.9 245.6 L932.3 248.2 L932.6 251.1 L932.9 253.9 L933.3 256.4 L933.6 258.1 L934.0 258.6 L934.4 258.0 L934.8 255.9 L935.2 252.9 L935.7 249.7 L936.1 246.7 L936.5 244.6 L937.0 244.0 L937.4 244.6 L937.8 246.2 L938.3 248.6 L938.7 251.3 L939.2 254.2 L939.6 256.9 L940.0 259.3 L940.4 261.0 L941.5 262.2 L942.7 264.5 L943.0 265.9 L943.3 267.8 L943.7 270.0 L944.1 272.4 L944.5 275.0 L944.9 277.6 L945.4 280.2 L945.8 282.7 L946.2 285.0 L946.6 286.9 L947.0 288.5 L947.3 289.7 L948.5 289.7 L949.6 286.9 L950.7 283.9 L951.8 282.2 L953.0 280.6 L954.1 278.2 L954.7 276.4 L955.3 274.0 L955.9 271.5 L956.4 269.2 L957.0 267.3 L957.5 266.3 L958.3 267.6 L959.0 271.0 L959.8 272.3 L960.4 271.5 L961.0 269.6 L961.6 267.1 L962.2 264.5 L962.8 262.2 L963.3 259.9 L963.9 257.5 L964.4 255.1 L964.9 253.2 L965.5 251.6 L967.3 250.8 L969.0 254.2 L969.3 255.6 L969.5 257.2 L969.8 259.1 L970.0 261.2 L970.2 263.5 L970.4 265.9 L970.6 268.4 L970.8 270.9 L971.0 273.4 L971.2 275.9 L971.4 277.8 L971.5 279.8 L971.7 281.9 L971.9 284.0 L972.1 286.2 L972.3 288.4 L972.4 290.5 L972.6 292.7 L972.8 294.9 L973.0 297.1 L973.1 299.2 L973.3 301.3 L973.5 303.3 L973.7 305.4 L973.8 307.5 L974.0 309.6 L974.1 311.6 L974.3 313.6 L974.4 315.6 L974.6 317.5 L974.8 319.5 L975.0 321.5 L975.2 323.4 L975.5 325.4 L975.8 327.4 L976.2 329.5 L976.6 331.6 L977.0 333.8 L977.5 336.0 L978.0 338.2 L978.5 340.4 L979.0 342.5 L979.6 344.6 L980.1 346.5 L980.6 348.3 L981.1 350.0 L981.5 351.4 L982.8 354.7 L983.9 356.9 L985.1 358.2 L986.1 359.2 L989.5 359.6 L991.8 362.1" fill="none" stroke="#29b5bd" stroke-width="2" stroke-linejoin="round" stroke-linecap="round"/>
<circle cx="457" cy="266.5" r="8.6" fill="#f23c1c" fill-opacity="0.22"/>
<circle cx="457" cy="266.5" r="5.3" fill="#fdd" fill-opacity="0.6"/>
<circle cx="457" cy="266.5" r="4.6" fill="#f23c1c"/>
<path d="M301.5 223.5 H613.5 Q616.5 223.5 616.5 226.5 V251 Q616.5 254 613.5 254 H463 L457 259.5 L451 254 H301.5 Q298.5 254 298.5 251 V226.5 Q298.5 223.5 301.5 223.5 Z" fill="#f7f7f7" stroke="#f23c1c" stroke-width="1" fill-opacity="1"/>
<circle cx="310" cy="237.8" r="3.6" fill="#f23c1c"/>
<text x="317" y="241.5" font-size="12" fill="#333">Smart Village - CO2 (2018-05-16 17:00:00): <tspan font-weight="bold" fill="#222">1125 ppm</tspan></text>
<rect x="1055.8" y="188.8" width="14.2" height="2.2" rx="1" fill="#555"/>
<rect x="1055.8" y="193.2" width="14.2" height="2.2" rx="1" fill="#555"/>
<rect x="1055.8" y="197.6" width="14.2" height="2.2" rx="1" fill="#555"/>
<line x1="391" y1="587.5" x2="407" y2="587.5" stroke="#f23c1c" stroke-width="2"/>
<text x="411" y="591.5" font-size="11.5" fill="#333" font-weight="bold" textLength="105" lengthAdjust="spacingAndGlyphs">Smart Village – CO2</text>
<line x1="534" y1="587.5" x2="550" y2="587.5" stroke="#29b5bd" stroke-width="2"/>
<text x="553.7" y="591.5" font-size="11.5" fill="#333" font-weight="bold" textLength="151.5" lengthAdjust="spacingAndGlyphs">Smart Village – Temperature</text>
</svg>
</body></html>
